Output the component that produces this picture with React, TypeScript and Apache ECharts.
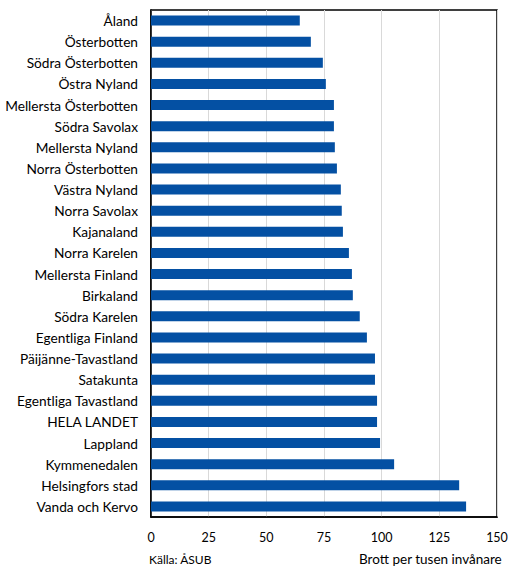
import React, { useEffect, useRef } from "react";
import * as echarts from "echarts";

const categories = [
  "Åland",
  "Österbotten",
  "Södra Österbotten",
  "Östra Nyland",
  "Mellersta Österbotten",
  "Södra Savolax",
  "Mellersta Nyland",
  "Norra Österbotten",
  "Västra Nyland",
  "Norra Savolax",
  "Kajanaland",
  "Norra Karelen",
  "Mellersta Finland",
  "Birkaland",
  "Södra Karelen",
  "Egentliga Finland",
  "Päijänne-Tavastland",
  "Satakunta",
  "Egentliga Tavastland",
  "HELA LANDET",
  "Lappland",
  "Kymmenedalen",
  "Helsingfors stad",
  "Vanda och Kervo",
];

const values = [
  64.5, 69.3, 74.5, 75.8, 79.3, 79.3, 79.7, 80.6, 82.3, 82.7, 83.2, 85.8, 87.1,
  87.5, 90.5, 93.6, 97.1, 97.1, 98.0, 98.0, 99.3, 105.4, 133.6, 136.6,
];

const sourceText = "Källa: ÅSUB";
const unitText = "Brott per tusen invånare";

const FONT = "Lato, 'Open Sans', sans-serif";

export default function App() {
  const ref = useRef<HTMLDivElement>(null);
  useEffect(() => {
    if (!ref.current) return;
    const chart = echarts.init(ref.current, undefined, { renderer: "svg" });
    chart.setOption({
      animation: false,
      backgroundColor: "#fff",
      textStyle: { fontFamily: FONT },
      grid: {
        left: 151,
        right: 15,
        top: 10,
        bottom: 55,
        containLabel: false,
        show: true,
        borderColor: "#000",
        borderWidth: 1.5,
      },
      xAxis: {
        type: "value",
        min: 0,
        max: 150,
        interval: 25,
        axisLine: { show: true, lineStyle: { color: "#000", width: 1.5 } },
        axisTick: { show: false },
        splitLine: { show: true, lineStyle: { color: "#D9D9D9", width: 1 } },
        axisLabel: { color: "#000", fontSize: 12.5, margin: 14, fontFamily: FONT },
      },
      yAxis: {
        type: "category",
        inverse: true,
        data: categories,
        axisLine: { show: true, lineStyle: { color: "#000", width: 1.5 } },
        axisTick: { show: false },
        axisLabel: { color: "#000", fontSize: 13.7, margin: 13, fontFamily: FONT },
      },
      series: [
        {
          type: "bar",
          data: values,
          barWidth: "47%",
          itemStyle: { color: "#0450A3" },
        },
      ],
      graphic: [
        {
          type: "text",
          left: 149,
          top: 553,
          style: { text: sourceText, fill: "#000", fontSize: 12, fontFamily: FONT },
        },
        {
          type: "text",
          right: 10,
          top: 552,
          style: { text: unitText, fill: "#000", fontSize: 13.5, fontFamily: FONT },
        },
      ],
    });
    return () => chart.dispose();
  }, []);
  return (
    <div
      ref={ref}
      style={{ position: "fixed", left: 0, top: 0, width: 512, height: 572 }}
    />
  );
}
